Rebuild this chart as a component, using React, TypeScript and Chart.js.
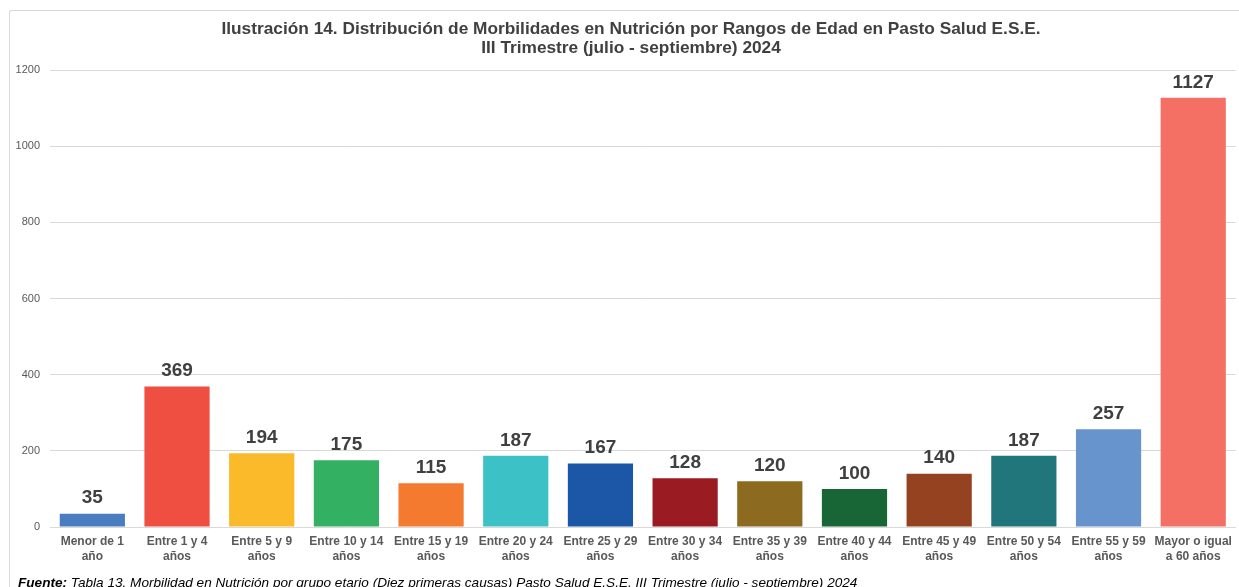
import React, { useEffect, useRef } from "react";
import { Chart, registerables } from "chart.js";

Chart.register(...registerables);

const categories: string[][] = [
  ["Menor de 1", "año"],
  ["Entre 1 y 4", "años"],
  ["Entre 5 y 9", "años"],
  ["Entre 10 y 14", "años"],
  ["Entre 15 y 19", "años"],
  ["Entre 20 y 24", "años"],
  ["Entre 25 y 29", "años"],
  ["Entre 30 y 34", "años"],
  ["Entre 35 y 39", "años"],
  ["Entre 40 y 44", "años"],
  ["Entre 45 y 49", "años"],
  ["Entre 50 y 54", "años"],
  ["Entre 55 y 59", "años"],
  ["Mayor o igual", "a 60 años"],
];

const values: number[] = [35, 369, 194, 175, 115, 187, 167, 128, 120, 100, 140, 187, 257, 1127];

const barColors: string[] = [
  "#4a7dc0", "#ef4f40", "#fbba29", "#33b061", "#f47a30", "#3cc1c6", "#1b57a6",
  "#9a1c22", "#8c6b20", "#186635", "#954221", "#20767a", "#6794cd", "#f47064",
];

const titleLines: string[] = [
  "Ilustración 14. Distribución de Morbilidades en Nutrición por Rangos de Edad en Pasto Salud E.S.E.",
  "III Trimestre (julio - septiembre) 2024",
];

const FONT = "'Liberation Sans', Arial, sans-serif";
const TITLE_SIZE = 17.3;
const TITLE_LH = 1.1;

const valueLabels = {
  id: "valueLabels",
  afterDatasetsDraw(chart: any) {
    const ctx = chart.ctx;
    const meta = chart.getDatasetMeta(0);
    ctx.save();
    ctx.font = `bold 19px ${FONT}`;
    ctx.fillStyle = "#404040";
    ctx.textAlign = "center";
    ctx.textBaseline = "bottom";
    meta.data.forEach((bar: any, i: number) => {
      ctx.fillText(String(values[i]), bar.x, bar.y - 6);
    });
    ctx.restore();
  },
};

// Draws the title text slightly right of the canvas centre (space is reserved by the built-in title)
const shiftedTitle = {
  id: "shiftedTitle",
  afterDraw(chart: any) {
    const tb = chart.titleBlock;
    if (!tb) return;
    const ctx = chart.ctx;
    const lh = TITLE_SIZE * TITLE_LH;
    ctx.save();
    ctx.font = `bold ${TITLE_SIZE}px ${FONT}`;
    ctx.fillStyle = "#404040";
    ctx.textAlign = "center";
    ctx.textBaseline = "middle";
    const cx = (tb.left + tb.right) / 2 + 7;
    titleLines.forEach((line, i) => {
      ctx.fillText(line, cx, tb.top + 10 + lh * (i + 0.5));
    });
    ctx.restore();
  },
};

export default function App() {
  const ref = useRef<HTMLCanvasElement>(null);

  useEffect(() => {
    document.body.style.overflow = "hidden";
    const chart = new Chart(ref.current!, {
      type: "bar",
      data: {
        labels: categories,
        datasets: [
          {
            data: values,
            backgroundColor: barColors,
            barPercentage: 0.77,
            categoryPercentage: 1,
          },
        ],
      },
      options: {
        animation: false,
        responsive: false,
        maintainAspectRatio: false,
        layout: { padding: { left: 3, right: 3, top: 0, bottom: 6 } },
        plugins: {
          legend: { display: false },
          tooltip: { enabled: false },
          title: {
            display: true,
            text: titleLines,
            color: "rgba(0,0,0,0)",
            font: { family: FONT, size: TITLE_SIZE, weight: "bold", lineHeight: TITLE_LH },
            padding: { top: 10, bottom: 12 },
          },
        },
        scales: {
          x: {
            grid: { display: false, drawTicks: false },
            border: { color: "#d9d9d9" },
            ticks: {
              color: "#595959",
              font: { family: FONT, size: 12, weight: "bold", lineHeight: 1.25 },
              padding: 7,
              maxRotation: 0,
              autoSkip: false,
            },
          },
          y: {
            min: 0,
            max: 1200,
            grid: { color: "#d9d9d9", drawTicks: false },
            border: { display: false },
            afterFit: (scale: any) => {
              scale.width = 38;
            },
            ticks: {
              stepSize: 200,
              color: "#595959",
              font: { family: FONT, size: 11 },
              padding: 10,
              callback: (v: any) => String(v),
            },
          },
        },
      },
      plugins: [valueLabels, shiftedTitle],
    });
    return () => chart.destroy();
  }, []);

  return (
    <div
      style={{
        position: "fixed",
        left: 0,
        top: 0,
        width: 1239,
        height: 587,
        overflow: "hidden",
        background: "#ffffff",
      }}
    >
      <div
        style={{
          position: "absolute",
          left: 9,
          top: 10,
          width: 1260,
          height: 620,
          borderLeft: "1px solid #d9d9d9",
          borderTop: "1px solid #d9d9d9",
          borderTopLeftRadius: 3,
        }}
      />
      <canvas
        ref={ref}
        width={1230}
        height={567}
        style={{ position: "absolute", left: 9, top: 10, width: 1230, height: 567 }}
      />
      <div
        style={{
          position: "absolute",
          left: 18,
          top: 575,
          fontFamily: FONT,
          fontSize: 13.6,
          fontStyle: "italic",
          color: "#000",
          whiteSpace: "nowrap",
        }}
      >
        <b>Fuente:</b> Tabla 13. Morbilidad en Nutrición por grupo etario (Diez primeras causas) Pasto Salud E.S.E. III Trimestre (julio - septiembre) 2024
      </div>
    </div>
  );
}
